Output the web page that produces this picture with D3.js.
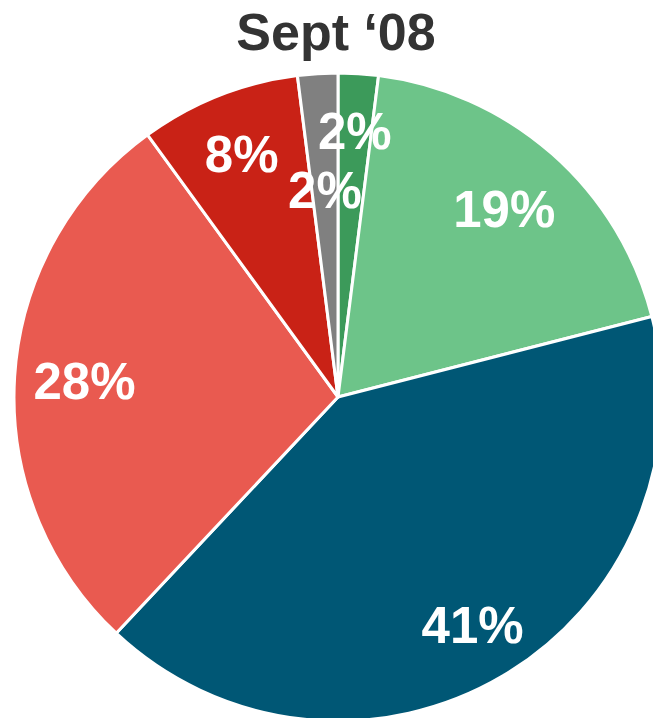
<!DOCTYPE html>
<html><head><meta charset="utf-8">
<script src="https://cdn.jsdelivr.net/npm/d3@7/dist/d3.min.js"></script>
<style>html,body{margin:0;padding:0;background:#fff;overflow:hidden}</style>
</head><body>
<svg id="chart" width="653" height="718"></svg>
<script>
const title = "Sept \u201808";
const categories = ["A", "B", "C", "D", "E", "F"];
const values = [2, 19, 41, 28, 8, 2];
const colors = ["#3c9a5a", "#6dc489", "#005775", "#e95a50", "#c92216", "#808080"];

const svg = d3.select("#chart");
const cx = 338, cy = 397, r = 324;

svg.append("text").attr("x", 336).attr("y", 50).attr("text-anchor", "middle")
  .attr("font-family", "Liberation Sans, Arial, sans-serif").attr("font-weight", "bold")
  .attr("font-size", 52).attr("fill", "#333333").text(title);

const pie = d3.pie().sort(null).value(d => d)(values);
const arc = d3.arc().innerRadius(0).outerRadius(r);
const g = svg.append("g").attr("transform", `translate(${cx},${cy})`);

g.selectAll("path").data(pie).join("path")
  .attr("d", arc).attr("fill", (d, i) => colors[i])
  .attr("stroke", "#fff").attr("stroke-width", 3).attr("stroke-linejoin", "round");

// label radius: a small slice followed by another small slice is pulled inward
const lr = pie.map((d, i) => {
  const next = pie[(i + 1) % pie.length];
  const small = d.data < 5 && next.data < 5 && i > 0;
  return small ? r * 0.64 : r * 0.8;
});
const fudge = [1.03, 0.97, 1.02, 0.98, 1.01, 1];
g.selectAll("text").data(pie).join("text")
  .attr("transform", (d, i) => {
    const a = (d.startAngle + d.endAngle) / 2;
    const rr = lr[i] * fudge[i];
    return `translate(${rr * Math.sin(a)},${-rr * Math.cos(a)})`;
  })
  .attr("text-anchor", "middle").attr("dy", "0.36em")
  .attr("font-family", "Liberation Sans, Arial, sans-serif").attr("font-weight", "bold")
  .attr("font-size", 51).attr("fill", "#ffffff")
  .text(d => d.data + "%");
</script>
</body></html>
